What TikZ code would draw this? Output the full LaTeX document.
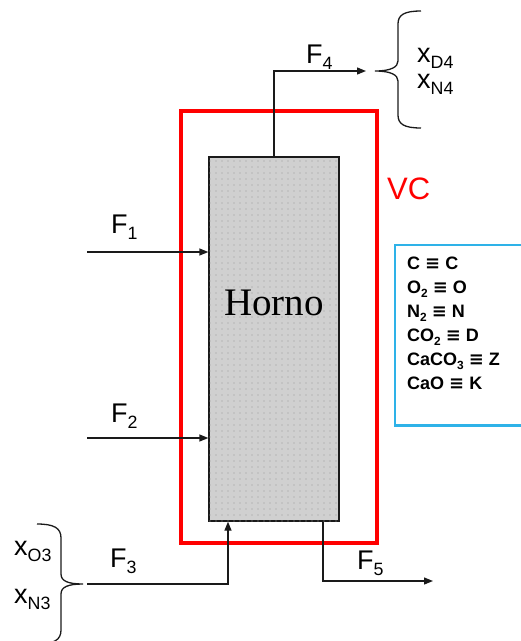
\documentclass[tikz,border=0pt]{standalone}
\usepackage{fontspec}
\setmainfont{Liberation Sans}
\newfontfamily\serifhorno{Liberation Serif}
\newfontfamily\symbolfont{DejaVu Sans}
\usetikzlibrary{arrows.meta,patterns.meta}
\definecolor{VCRed}{HTML}{FF0000}
\definecolor{LegendBlue}{HTML}{2EB2E8}
\definecolor{OvenGray}{HTML}{D0D0D0}
\definecolor{DotGray}{HTML}{9A9A9A}
\definecolor{LineBlack}{HTML}{1A1A1A}
\newcommand{\idx}[1]{\raisebox{-0.24em}{\scalebox{0.66}{#1}}}
\newcommand{\eqv}{{\symbolfont\bfseries ≡}}
\tikzset{
  oven/.style={draw=LineBlack, line width=1.3pt, fill=OvenGray, postaction={pattern={Dots[distance=6pt,radius=0.7pt]}, pattern color=DotGray}, minimum width=130pt, minimum height=364pt, inner sep=0pt},
  vcbox/.style={draw=VCRed, line width=3.6pt, minimum width=196pt, minimum height=432pt, inner sep=0pt},
  flow/.style={-{Triangle[length=9pt,width=7pt]}, line width=1.3pt, draw=LineBlack},
  bracket/.style={line width=1.3pt, draw=LineBlack},
  lbl/.style={anchor=base west, inner sep=0pt, font=\fontsize{27}{32}\selectfont},
  legendline/.style={draw=LegendBlue, line width=2.4pt}
}
\begin{document}
\begin{tikzpicture}[x=1pt, y=-1pt]
\useasboundingbox (0,0) rectangle (521,641);

\node[vcbox] (vc) at (279,327) {};
\node[oven] (horno) at (274,339) {};
\node[anchor=base, inner sep=0pt, font=\serifhorno\fontsize{39}{44}\selectfont] (hornotxt) at (274,315) {Horno};
\node[lbl, text=VCRed, font=\fontsize{31}{36}\selectfont] (vclbl) at (387,199) {VC};

% feeds and products
\coordinate (f1in) at (87,252);
\coordinate (f2in) at (87,438);
\coordinate (f3in) at (87,584);
\coordinate (f4out) at (366,71);
\coordinate (f5out) at (433,581);
\draw[flow] (f1in) -- (f1in -| horno.west);
\draw[flow] (f2in) -- (f2in -| horno.west);
\draw[flow] (f3in) -| ([xshift=-46pt]horno.south);
\draw[flow] (horno.north) |- (f4out);
\draw[flow] ([xshift=49pt]horno.south) |- (f5out);

\node[lbl] (f1) at (111,233) {F\idx{1}};
\node[lbl] (f2) at (111,422) {F\idx{2}};
\node[lbl] (f3) at (110,567) {F\idx{3}};
\node[lbl] (f4) at (306,63) {F\idx{4}};
\node[lbl] (f5) at (357,569) {F\idx{5}};

% compositions
\draw[bracket] (421,11) .. controls (404,11) and (398,15) .. (398,24) -- (398,61) .. controls (398,67) and (391,71) .. (375,71) .. controls (391,71) and (398,75) .. (398,81) -- (398,115) .. controls (398,124) and (404,128) .. (421,128);
\node[lbl] (xd4) at (417,62) {x\idx{D4}};
\node[lbl] (xn4) at (417,88) {x\idx{N4}};

\draw[bracket] (37,524) .. controls (54,524) and (61,528) .. (61,538) -- (61,574) .. controls (61,581) and (68,584) .. (83,584) .. controls (68,584) and (61,587) .. (61,594) -- (61,630) .. controls (61,640) and (54,644) .. (37,644);
\node[lbl] (xo3) at (14,555) {x\idx{O3}};
\node[lbl] (xn3) at (14,603) {x\idx{N3}};

% species key
\node[anchor=north west, minimum width=126pt, minimum height=180pt, inner sep=0pt] (key) at (395,245) {};
\draw[legendline] (key.north east) -- (key.north west) -- (key.south west) -- (key.south east);
\node[anchor=base west, inner sep=0pt, align=left, font=\bfseries\fontsize{18}{24}\selectfont] (species) at (407,389) {C \eqv{} C\\O\idx{2} \eqv{} O\\N\idx{2} \eqv{} N\\CO\idx{2} \eqv{} D\\CaCO\idx{3} \eqv{} Z\\CaO \eqv{} K};
\end{tikzpicture}
\end{document}
